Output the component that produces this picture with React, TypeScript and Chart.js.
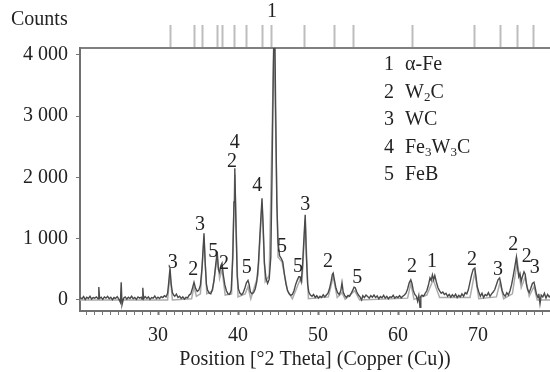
import React, { useEffect, useRef } from "react";
import { Chart, registerables } from "chart.js";

Chart.register(...registerables);

// Measured pattern, [2θ, counts]
const traceLow: [number, number][] = [
  [20.25, 40], [20.5, 20], [20.7, 55], [20.9, 10], [21.1, 45], [21.3, 25], [21.5, 60], [21.7, 15],
  [21.9, 40], [22.1, 30], [22.3, 50], [22.5, 20], [22.6, 210], [22.7, 25], [22.9, 45], [23.1, 10],
  [23.3, 50], [23.5, 30], [23.7, 60], [23.9, 20], [24.1, 45], [24.3, 5], [24.5, 40], [24.7, 25],
  [24.9, 55], [25.1, 15], [25.3, -40], [25.4, 290], [25.5, -80], [25.7, 30], [25.9, 50], [26.1, 15],
  [26.3, 45], [26.5, 25], [26.7, 60], [26.9, 20], [27.1, 40], [27.3, 10], [27.5, 50], [27.7, 30],
  [27.9, 45], [28.0, 15], [28.1, 200], [28.2, 20], [28.4, 55], [28.6, 25], [28.8, 50], [29.0, 10],
  [29.2, 40], [29.4, 30], [29.6, 65], [29.8, 20], [30.0, 45], [30.2, 25], [30.4, 55], [30.6, 40],
  [30.8, 70],
];
const traceMid: [number, number][] = [
  [31.0, 50], [31.2, 110], [31.35, 300], [31.5, 520], [31.65, 260], [31.8, 120], [31.95, 80], [32.1, 60],
  [32.3, 95], [32.5, 40], [32.7, 60], [32.9, 25], [33.1, 50], [33.3, 15], [33.5, 45], [33.7, 35],
  [33.9, 80], [34.1, 100], [34.3, 190], [34.5, 290], [34.7, 190], [34.9, 140], [35.1, 160], [35.3, 240],
  [35.5, 520], [35.75, 1090], [35.9, 600], [36.05, 260], [36.2, 160], [36.4, 110], [36.6, 100], [36.8, 170],
  [37.0, 310], [37.2, 560], [37.4, 790], [37.55, 500], [37.7, 450], [37.85, 560], [38.0, 600], [38.15, 420],
  [38.35, 250], [38.55, 150], [38.75, 100], [38.95, 90], [39.15, 160], [39.35, 700], [39.5, 1600], [39.6, 2150],
  [39.75, 1200], [39.9, 400], [40.05, 180], [40.25, 110], [40.45, 85], [40.65, 120], [40.85, 190], [41.05, 280],
  [41.25, 320], [41.4, 250], [41.55, 130], [41.75, 100], [41.95, 120], [42.15, 180], [42.35, 300], [42.55, 600],
  [42.8, 1200], [43.0, 1660], [43.15, 1200], [43.3, 600], [43.5, 350], [43.7, 270], [43.9, 340], [44.1, 700],
  [44.25, 2000], [44.4, 3600], [44.5, 4500], [44.6, 4400], [44.7, 3200], [44.85, 1600], [45.0, 950], [45.2, 720],
  [45.4, 680], [45.6, 620], [45.8, 420], [46.0, 260], [46.2, 150], [46.4, 100], [46.6, 75], [46.8, 90],
  [47.0, 150], [47.2, 250], [47.4, 320], [47.6, 380], [47.75, 380], [47.9, 300], [48.05, 520], [48.2, 900],
  [48.4, 1390], [48.55, 700], [48.7, 260], [48.85, 130], [49.05, 80], [49.25, 60], [49.45, 90], [49.65, 40],
  [49.85, 70],
];
const traceHigh: [number, number][] = [
  [50.05, 30], [50.25, 60], [50.45, 40], [50.65, 85], [50.85, 50], [51.05, 80], [51.25, 110], [51.45, 190],
  [51.65, 310], [51.8, 420], [51.9, 440], [52.05, 330], [52.25, 190], [52.45, 120], [52.65, 90], [52.85, 150],
  [53.0, 280], [53.15, 130], [53.35, 70], [53.55, 40], [53.75, 75], [53.95, 60], [54.15, 110], [54.35, 160],
  [54.5, 210], [54.65, 200], [54.85, 130], [55.05, 80], [55.25, 50], [55.45, 0], [55.6, 70], [55.8, 40],
  [56.0, 80], [56.2, 55], [56.4, 30], [56.6, 70], [56.8, 45], [57.0, 80], [57.2, 40], [57.4, 65],
  [57.6, 20], [57.8, 55], [58.0, 35], [58.2, 75], [58.4, 30], [58.6, 60], [58.8, 20], [59.0, 50],
  [59.2, 40], [59.4, 75], [59.6, 30], [59.8, 55], [60.0, 40], [60.2, 70], [60.4, 35], [60.6, 60],
  [60.8, 80], [61.0, 110], [61.2, 180], [61.4, 280], [61.6, 330], [61.75, 270], [61.9, 160], [62.1, 90],
  [62.3, 60], [62.45, -20], [62.6, 70], [62.75, -120], [62.85, 60], [63.0, 80], [63.2, 60], [63.4, 110],
  [63.6, 150], [63.8, 240], [64.0, 360], [64.15, 320], [64.3, 410], [64.45, 330], [64.6, 400], [64.8, 290],
  [65.0, 200],
];
const traceEnd: [number, number][] = [
  [65.2, 150], [65.4, 110], [65.6, 130], [65.8, 90], [66.0, 110], [66.2, 60], [66.4, 90], [66.6, 45],
  [66.8, 85], [67.0, 55], [67.2, 95], [67.4, 40], [67.6, 75], [67.8, 50], [68.0, 100], [68.2, 60],
  [68.4, 120], [68.6, 100], [68.8, 170], [69.0, 290], [69.2, 410], [69.4, 500], [69.6, 520], [69.75, 380],
  [69.9, 220], [70.1, 130], [70.3, 60], [70.5, 110], [70.7, 40], [70.9, 90], [71.1, 70], [71.3, 120],
  [71.5, 60], [71.7, 100], [71.9, 130], [72.1, 170], [72.3, 250], [72.5, 330], [72.7, 360], [72.85, 270],
  [73.0, 160], [73.2, 90], [73.4, 60], [73.6, 120], [73.8, 80], [74.0, 150], [74.2, 250], [74.4, 390],
  [74.6, 540], [74.8, 700], [74.95, 520], [75.1, 380], [75.25, 430], [75.4, 300], [75.55, 380], [75.75, 460],
  [75.9, 420], [76.05, 260], [76.2, 170], [76.4, 120], [76.6, 190], [76.8, 270], [77.0, 290], [77.15, 200],
  [77.3, 100], [77.5, 40], [77.6, 100], [77.75, -60], [77.9, 80], [78.1, 50], [78.3, 110], [78.5, 30],
  [78.7, 90], [78.9, 50], [79.0, 70],
];

// Fitted profile (lighter line)
const profile: [number, number][] = [
  [20.25, 0], [31.2, 0], [31.5, 430], [31.8, 0], [34.2, 20], [34.5, 220], [34.8, 60], [35.3, 100],
  [35.75, 1000], [36.1, 100], [36.8, 150], [37.4, 700], [37.7, 350], [38.0, 500], [38.4, 80], [39.2, 100],
  [39.6, 2050], [40.0, 50], [40.9, 100], [41.25, 220], [41.6, 20], [42.5, 400], [43.0, 1580], [43.4, 300],
  [43.9, 400], [44.5, 4300], [45.0, 700], [45.5, 620], [46.2, 150], [46.8, 20], [47.5, 250], [47.75, 330],
  [48.0, 300], [48.4, 1300], [48.8, 20], [51.3, 50], [51.9, 380], [52.4, 40], [53.0, 120], [53.4, 10],
  [54.6, 150], [55.2, 0], [61.2, 30], [61.6, 270], [62.0, 10], [63.6, 80], [64.4, 330], [65.2, 40],
  [69.0, 40], [69.6, 450], [70.1, 20], [72.3, 50], [72.75, 290], [73.2, 20], [74.3, 100], [74.9, 630],
  [75.4, 200], [75.9, 380], [76.4, 60], [77.0, 220], [77.4, 0], [79.0, 0],
];

// Reference pattern sticks (top axis)
const refLines = [31.6, 34.6, 35.6, 37.4, 38.0, 39.6, 41.1, 43.0, 44.2, 48.25, 52.0, 54.4, 61.75, 69.6, 72.75, 74.9, 76.9];

// Peak labels
const peakLabelX = [31.85, 34.4, 35.25, 36.9, 38.25, 39.25, 39.6, 41.1, 42.4, 44.25, 45.5, 47.5, 48.4, 51.25, 54.9, 61.75, 64.25, 69.25, 72.5, 74.4, 76.1, 77.1];
const peakLabelY = [610, 490, 1225, 785, 590, 2255, 2565, 520, 1860, 4700, 865, 540, 1550, 620, 360, 540, 620, 650, 490, 900, 700, 520];
const peakLabelText = ["3", "2", "3", "5", "2", "2", "4", "5", "4", "1", "5", "5", "3", "2", "5", "2", "1", "2", "3", "2", "2", "3"];

// Phase legend: number, parts [text, isSubscript]
const phaseNumbers = ["1", "2", "3", "4", "5"];
const phaseNames: [string, boolean][][] = [
  [["α-Fe", false]],
  [["W", false], ["2", true], ["C", false]],
  [["WC", false]],
  [["Fe", false], ["3", true], ["W", false], ["3", true], ["C", false]],
  [["FeB", false]],
];

const yTicks = [0, 1000, 2000, 3000, 4000];
const xMin = 20.25;
const xMax = 79.0;
const yMin = -180;
const yMax = 4114;

const FONT = "'Liberation Serif', 'DejaVu Serif', serif";
const TEXT = "#222222";

const fmt = (v: number) => String(v).replace(/\B(?=(\d{3})+(?!\d))/g, " ");

export default function App() {
  const ref = useRef<HTMLCanvasElement | null>(null);

  useEffect(() => {
    document.body.style.margin = "0";
    const canvas = ref.current;
    if (!canvas) return;

    const textPlugin = {
      id: "xrdText",
      afterDatasetsDraw(chart: any) {
        const ctx = chart.ctx as CanvasRenderingContext2D;
        const xs = chart.scales.x;
        const ys = chart.scales.y;
        ctx.save();
        ctx.fillStyle = TEXT;
        ctx.font = `20px ${FONT}`;
        ctx.textBaseline = "middle";
        ctx.textAlign = "left";
        ctx.fillText("Counts", 11, 20);

        ctx.textAlign = "center";
        for (let i = 0; i < peakLabelText.length; i++) {
          ctx.fillText(peakLabelText[i], xs.getPixelForValue(peakLabelX[i]), ys.getPixelForValue(peakLabelY[i]));
        }

        // phase legend
        const numX = 389;
        const nameX = 405;
        const top = 65;
        const step = 27.5;
        for (let i = 0; i < phaseNumbers.length; i++) {
          const y = top + i * step;
          ctx.font = `20px ${FONT}`;
          ctx.textAlign = "center";
          ctx.fillText(phaseNumbers[i], numX, y);
          ctx.textAlign = "left";
          let x = nameX;
          for (const [t, sub] of phaseNames[i]) {
            ctx.font = sub ? `13px ${FONT}` : `20px ${FONT}`;
            ctx.fillText(t, x, sub ? y + 5 : y);
            x += ctx.measureText(t).width;
          }
        }
        ctx.restore();
      },
    };

    const chart = new Chart(canvas, {
      type: "line",
      data: {
        datasets: [
          {
            data: [...traceLow, ...traceMid, ...traceHigh, ...traceEnd].map(([x, y]) => ({ x, y })),
            borderColor: "#4a4a4a",
            borderWidth: 1.4,
            pointRadius: 0,
            tension: 0,
            xAxisID: "x",
            yAxisID: "y",
            order: 1,
          },
          {
            data: profile.map(([x, y]) => ({ x, y })),
            borderColor: "#ababab",
            borderWidth: 1.5,
            pointRadius: 0,
            tension: 0,
            xAxisID: "x",
            yAxisID: "y",
            order: 2,
          },
        ],
      },
      options: {
        responsive: false,
        animation: false,
        layout: { padding: 0 },
        plugins: { legend: { display: false }, tooltip: { enabled: false }, title: { display: false } },
        scales: {
          x: {
            type: "linear",
            position: "bottom",
            min: xMin,
            max: xMax,
            afterBuildTicks: (s: any) => {
              const t = [];
              for (let v = Math.ceil(xMin); v <= Math.floor(xMax); v++) t.push({ value: v });
              s.ticks = t;
            },
            afterFit: (s: any) => {
              s.height = 61;
              s.paddingLeft = 0;
              s.paddingRight = 0;
            },
            ticks: {
              autoSkip: false,
              maxRotation: 0,
              padding: 9,
              color: TEXT,
              font: { family: FONT, size: 20 },
              callback: (v: any) => (Number(v) % 10 === 0 ? String(v) : ""),
            },
            grid: {
              drawOnChartArea: false,
              drawTicks: true,
              tickLength: 4,
              tickColor: "#777777",
              tickWidth: (c: any) => (c.tick && c.tick.value % 10 === 0 ? 2 : 1),
            },
            border: { display: true, color: "#707070", width: 2 },
            title: {
              display: true,
              text: "Position [°2 Theta] (Copper (Cu))",
              color: TEXT,
              font: { family: FONT, size: 20 },
              padding: { top: 0, bottom: 0 },
            },
          },
          xTop: {
            type: "linear",
            position: "top",
            min: xMin,
            max: xMax,
            afterBuildTicks: (s: any) => {
              s.ticks = refLines.map((v) => ({ value: v }));
            },
            afterFit: (s: any) => {
              s.height = 48;
              s.paddingLeft = 0;
              s.paddingRight = 0;
            },
            ticks: { display: false },
            grid: {
              drawOnChartArea: false,
              drawTicks: true,
              tickLength: 23,
              tickColor: "#bdbdbd",
              tickWidth: 2,
            },
            border: { display: true, color: "#808080", width: 2 },
          },
          y: {
            type: "linear",
            position: "left",
            min: yMin,
            max: yMax,
            afterBuildTicks: (s: any) => {
              s.ticks = yTicks.map((v) => ({ value: v }));
            },
            afterFit: (s: any) => {
              s.width = 80;
              s.paddingTop = 0;
              s.paddingBottom = 0;
            },
            ticks: {
              padding: 8,
              color: TEXT,
              font: { family: FONT, size: 20 },
              callback: (v: any) => fmt(Number(v)),
            },
            grid: {
              drawOnChartArea: false,
              drawTicks: true,
              tickLength: 4,
              tickColor: "#777777",
            },
            border: { display: true, color: "#707070", width: 2 },
          },
        },
      },
      plugins: [textPlugin],
    });

    return () => chart.destroy();
  }, []);

  return (
    <div style={{ width: 550, height: 372, background: "#ffffff" }}>
      <canvas ref={ref} width={550} height={372} style={{ display: "block" }} />
    </div>
  );
}
